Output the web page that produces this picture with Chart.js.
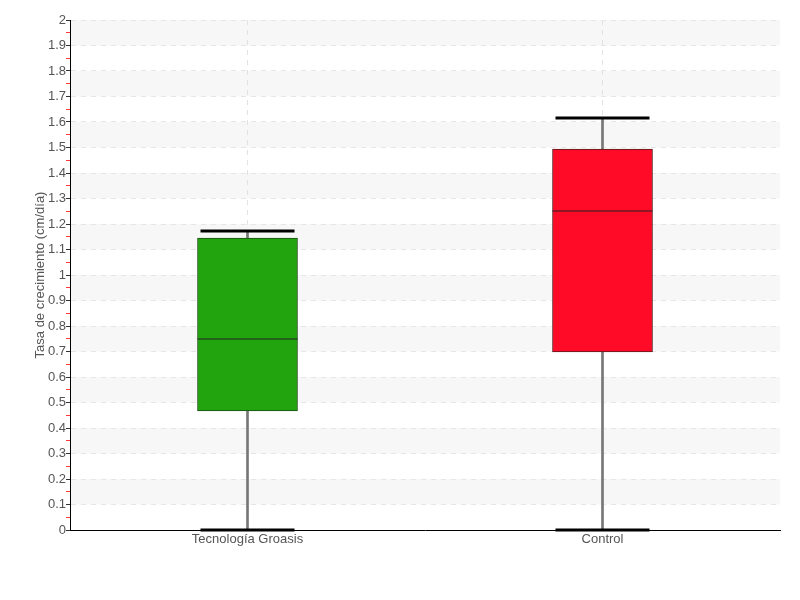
<!DOCTYPE html>
<html lang="es">
<head>
<meta charset="UTF-8">
<title>Tasa de crecimiento</title>
<script src="https://cdn.jsdelivr.net/npm/chart.js"></script>
<style>
  body { margin: 0; background: #fff; }
  #wrap { width: 800px; height: 600px; }
</style>
</head>
<body>
<div id="wrap"><canvas id="boxChart"></canvas></div>
<script>
// datos
var categories = ['Tecnología Groasis', 'Control'];
var minVals    = [0, 0];
var q1Vals     = [0.467, 0.698];
var medianVals = [0.749, 1.251];
var q3Vals     = [1.145, 1.494];
var maxVals    = [1.173, 1.616];
var boxColors  = ['#22a40e', '#ff0b27'];
var boxBorders = ['#1d4d14', '#5a1a1e'];
var yTitle = 'Tasa de crecimiento (cm/día)';
var yMin = 0, yMax = 2, yStep = 0.05;

var fontFam = "'Liberation Sans', 'DejaVu Sans', sans-serif";

function isMajor(v) {
    return Math.round(v * 20) % 2 === 0;
}

// franjas grises alternas detras de la rejilla
var bandPlugin = {
    id: 'bands',
    beforeDraw: function(chart) {
        var ctx = chart.ctx, area = chart.chartArea, y = chart.scales.y;
        ctx.save();
        ctx.fillStyle = '#f7f7f7';
        for (var i = 1; i < 20; i += 2) {
            var top = y.getPixelForValue((i + 1) / 10);
            var bot = y.getPixelForValue(i / 10);
            ctx.fillRect(area.left, top, area.right - area.left, bot - top);
        }
        ctx.restore();
    }
};

var boxData = q1Vals.map(function(q, i) { return [q, q3Vals[i]]; });
var whiskerData = minVals.map(function(m, i) { return [m, maxVals[i]]; });

new Chart(document.getElementById('boxChart'), {
    data: {
        labels: categories,
        datasets: [
            {
                type: 'bar',
                data: whiskerData,
                backgroundColor: '#777777',
                barThickness: 2,
                grouped: false,
                order: 3
            },
            {
                type: 'bar',
                data: boxData,
                backgroundColor: boxColors,
                borderColor: boxBorders,
                borderWidth: 1,
                borderSkipped: false,
                barThickness: 100,
                grouped: false,
                order: 2
            },
            {
                type: 'line',
                data: medianVals,
                showLine: false,
                pointStyle: 'line',
                pointRadius: 50,
                pointBorderWidth: 1,
                pointBorderColor: '#222222',
                clip: false,
                order: 1
            },
            {
                type: 'line',
                data: maxVals,
                showLine: false,
                pointStyle: 'line',
                pointRadius: 47,
                pointBorderWidth: 3,
                pointBorderColor: '#000000',
                clip: false,
                order: 0
            },
            {
                type: 'line',
                data: minVals,
                showLine: false,
                pointStyle: 'line',
                pointRadius: 47,
                pointBorderWidth: 3,
                pointBorderColor: '#000000',
                clip: false,
                order: 0
            }
        ]
    },
    options: {
        responsive: true,
        maintainAspectRatio: false,
        animation: false,
        layout: { autoPadding: false, padding: { left: 0, top: 20, right: 20, bottom: 45 } },
        plugins: {
            legend: { display: false },
            tooltip: { enabled: false }
        },
        scales: {
            x: {
                offset: true,
                grid: {
                    offset: false,
                    color: '#e2e2e2',
                    drawTicks: false
                },
                border: { color: '#000000', width: 1, dash: [5, 5] },
                ticks: {
                    color: '#555555',
                    padding: 2,
                    font: { family: fontFam, size: 13 }
                },
                afterFit: function(scale) { scale.height = 25; }
            },
            y: {
                min: yMin,
                max: yMax,
                border: { color: '#000000', width: 1, dash: [5, 5] },
                grid: {
                    color: function(c) { return isMajor(c.tick.value) ? '#e6e6e6' : 'rgba(0,0,0,0)'; },
                    tickColor: function(c) { return isMajor(c.tick.value) ? '#333333' : '#ff3b3b'; },
                    tickLength: 4
                },
                ticks: {
                    stepSize: yStep,
                    autoSkip: false,
                    color: '#555555',
                    padding: 0,
                    font: { family: fontFam, size: 13 },
                    callback: function(v) {
                        return isMajor(v) ? String(Math.round(v * 10) / 10) : '';
                    }
                },
                title: {
                    display: true,
                    text: yTitle,
                    color: '#555555',
                    padding: { top: 33, bottom: 0 },
                    font: { family: fontFam, size: 13 }
                },
                afterFit: function(scale) { scale.width = 70; }
            }
        }
    },
    plugins: [bandPlugin]
});
</script>
</body>
</html>
